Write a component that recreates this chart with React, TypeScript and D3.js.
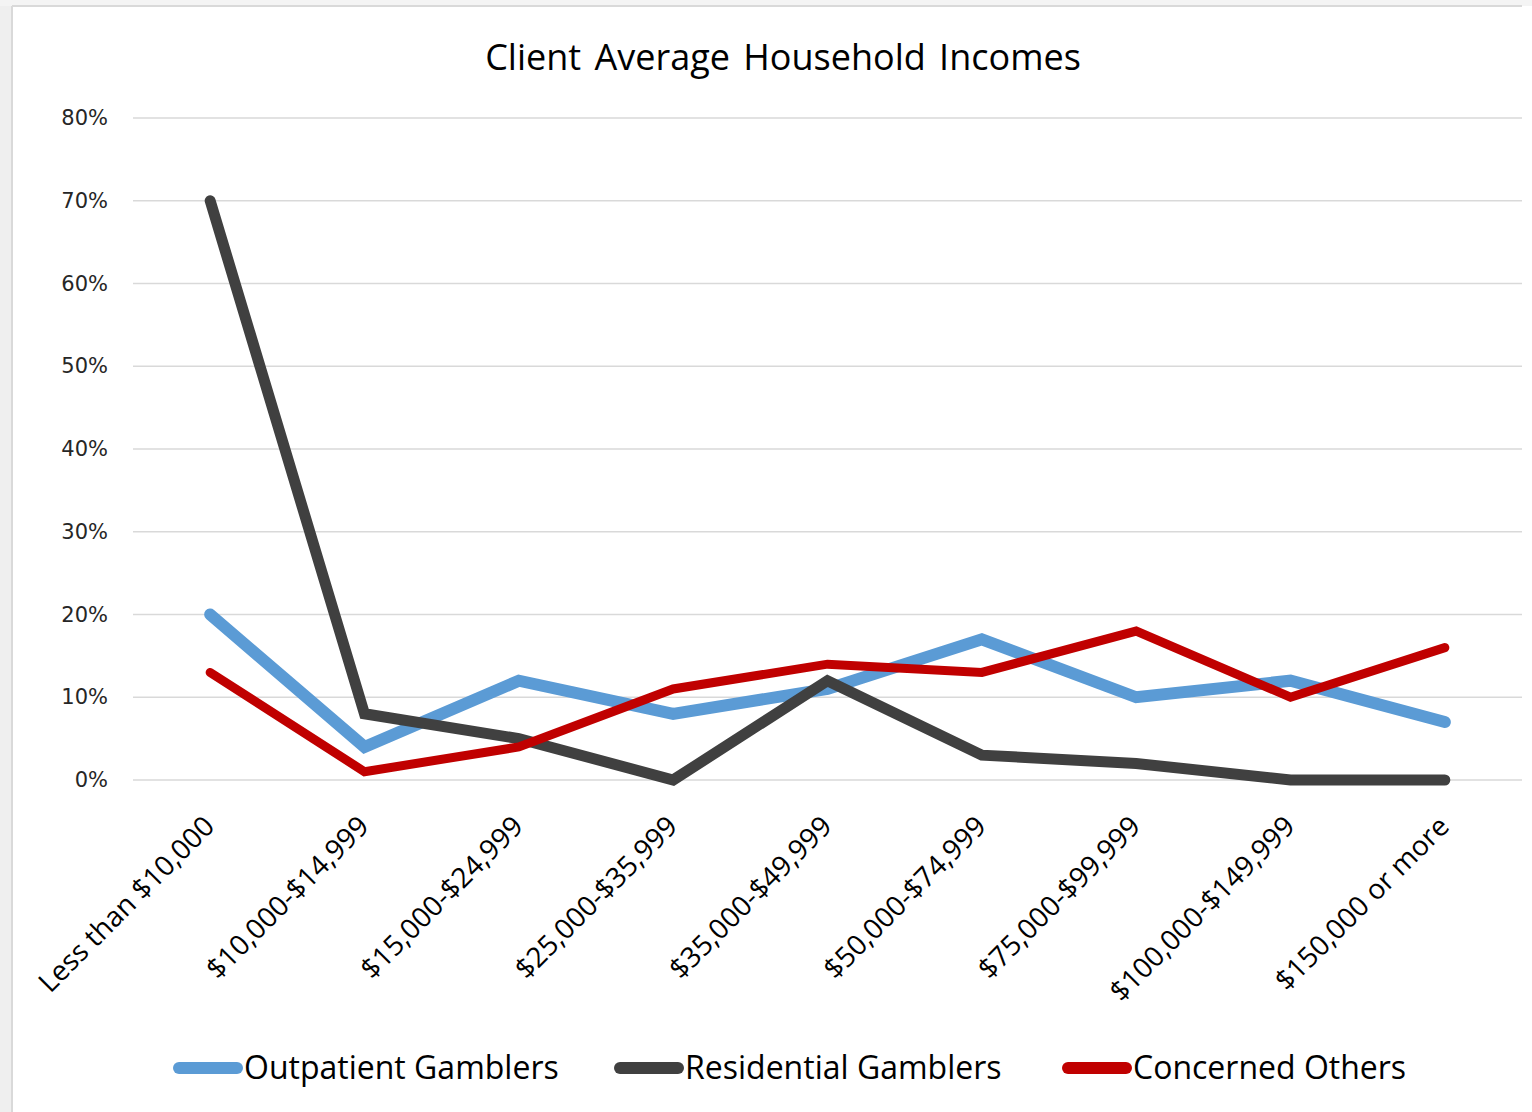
import React from "react";
import * as d3 from "d3";

const categories = [
  "Less than $10,000",
  "$10,000-$14,999",
  "$15,000-$24,999",
  "$25,000-$35,999",
  "$35,000-$49,999",
  "$50,000-$74,999",
  "$75,000-$99,999",
  "$100,000-$149,999",
  "$150,000 or more",
];
const outpatient = [20, 4, 12, 8, 11, 17, 10, 12, 7];
const residential = [70, 8, 5, 0, 12, 3, 2, 0, 0];
const concerned = [13, 1, 4, 11, 14, 13, 18, 10, 16];
const yTicks = [0, 10, 20, 30, 40, 50, 60, 70, 80];
const seriesNames = ["Outpatient Gamblers", "Residential Gamblers", "Concerned Others"];

const W = 1532;
const H = 1112;
const plotLeft = 133;
const plotRight = 1522;
const plotTop = 118;
const plotBottom = 780;

const series = [
  { name: seriesNames[0], values: outpatient, color: "#5B9BD5", width: 12 },
  { name: seriesNames[1], values: residential, color: "#404040", width: 11 },
  { name: seriesNames[2], values: concerned, color: "#C00000", width: 9 },
];

const legendX = [173, 614, 1062];

export default function App() {
  const x = d3.scaleBand<string>().domain(categories).range([plotLeft, plotRight]);
  const y = d3.scaleLinear().domain([0, 80]).range([plotBottom, plotTop]);
  const cx = (c: string) => (x(c) as number) + x.bandwidth() / 2;
  const line = d3
    .line<number>()
    .x((_, i) => cx(categories[i]))
    .y((v) => y(v));

  const calibri = "'Open Sans', 'Noto Sans', sans-serif";

  return (
    <svg
      width={W}
      height={H}
      style={{ position: "absolute", left: 0, top: 0, background: "#ffffff" }}
    >
      {/* outer frame */}
      <rect x={0} y={0} width={12} height={H} fill="#efefef" />
      <rect x={0} y={0} width={W} height={6} fill="#f4f4f4" />
      <line x1={12} y1={6} x2={1522} y2={6} stroke="#d9d9d9" strokeWidth={2} />
      <line x1={12} y1={6} x2={12} y2={H} stroke="#d9d9d9" strokeWidth={2} />

      {/* title */}
      <text
        x={783}
        y={70}
        textAnchor="middle"
        fontFamily={calibri}
        fontSize={36}
        fill="#000"
        wordSpacing={4}
      >
        Client Average Household Incomes
      </text>

      {/* gridlines and y labels */}
      {yTicks.map((t) => (
        <g key={t}>
          <line
            x1={plotLeft}
            x2={plotRight}
            y1={y(t)}
            y2={y(t)}
            stroke="#d9d9d9"
            strokeWidth={1.5}
          />
          <text
            x={108}
            y={y(t) + 7}
            textAnchor="end"
            fontFamily="'DejaVu Sans', Verdana, sans-serif"
            fontSize={21}
            fill="#262626"
          >
            {t}%
          </text>
        </g>
      ))}

      {/* x labels */}
      {categories.map((c) => {
        const px = cx(c) + 6;
        const py = 828;
        return (
          <text
            key={c}
            x={px}
            y={py}
            transform={`rotate(-45 ${px} ${py})`}
            textAnchor="end"
            fontFamily={calibri}
            fontSize={28}
            fill="#000"
          >
            {c}
          </text>
        );
      })}

      {/* lines */}
      {series.map((s) => (
        <path
          key={s.name}
          d={line(s.values) || ""}
          fill="none"
          stroke={s.color}
          strokeWidth={s.width}
          strokeLinecap="round"
          strokeLinejoin="miter"
        />
      ))}

      {/* legend */}
      {series.map((s, i) => (
        <g key={s.name}>
          <line
            x1={legendX[i] + 6}
            x2={legendX[i] + 64}
            y1={1068}
            y2={1068}
            stroke={s.color}
            strokeWidth={12}
            strokeLinecap="round"
          />
          <text
            x={legendX[i] + 71}
            y={1079}
            fontFamily={calibri}
            fontSize={32}
            fill="#000"
          >
            {s.name}
          </text>
        </g>
      ))}
    </svg>
  );
}
